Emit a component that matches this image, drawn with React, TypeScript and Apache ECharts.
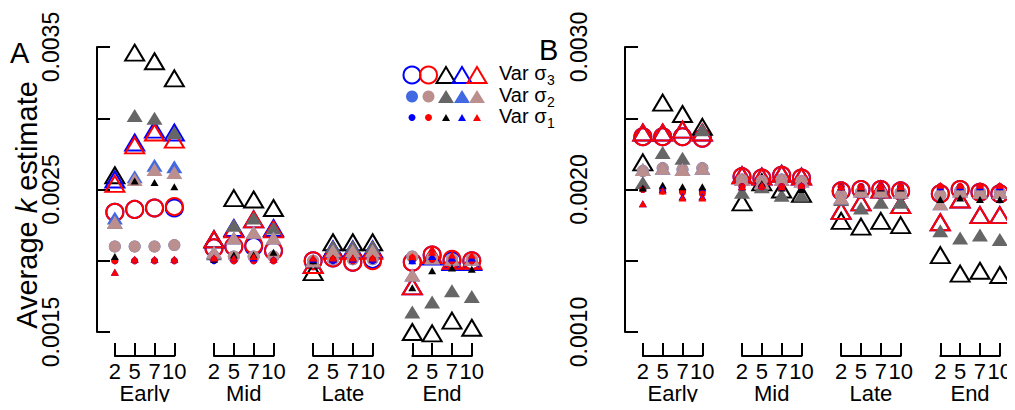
import React, { useEffect, useRef } from 'react';
import * as echarts from 'echarts';

const FONT = '"Liberation Sans", Arial, Helvetica, sans-serif';

// ---------- categories / labels ----------
const stages = ['Early', 'Mid', 'Late', 'End'];
const sampleSizes = ['2', '5', '7', '10'];
const yLabelsA = ['0.0015', '0.0025', '0.0035'];
const yLabelsB = ['0.0010', '0.0020', '0.0030'];
const legendLabels = ['3', '2', '1'];

// ---------- Panel A values (Early 2,5,7,10 | Mid | Late | End) ----------
const A_s3_circBlue = [0.00234, 0.00236, 0.00237, 0.00237, 0.00209, 0.0021, 0.0021, 0.00207, 0.002, 0.00202, 0.00199, 0.00201, 0.00199, 0.00204, 0.002, 0.002];
const A_s3_circRed = [0.00234, 0.00236, 0.00237, 0.00238, 0.00209, 0.0021, 0.00211, 0.00207, 0.002, 0.00202, 0.00199, 0.002, 0.00199, 0.00204, 0.00201, 0.002];
const A_s3_triBlack = [0.0026, 0.00346, 0.0034, 0.00328, 0.00215, 0.00244, 0.00243, 0.00237, 0.00192, 0.00213, 0.00213, 0.00213, 0.0015, 0.00149, 0.00158, 0.00153];
const A_s3_triBlue = [0.00257, 0.00283, 0.00292, 0.0029, 0.00215, 0.00223, 0.00229, 0.00223, 0.00197, 0.00208, 0.00208, 0.00208, 0.00182, 0.00203, 0.00199, 0.00199];
const A_s3_triRed = [0.00254, 0.00281, 0.0029, 0.00285, 0.00215, 0.00222, 0.00229, 0.00222, 0.00197, 0.00207, 0.00207, 0.00207, 0.00182, 0.00204, 0.002, 0.002];

const A_s2_circBlue = [0.0021, 0.0021, 0.0021, 0.00211, 0.00203, 0.00203, 0.00203, 0.00203, 0.002, 0.00201, 0.00201, 0.00201, 0.00203, 0.00202, 0.00201, 0.00201];
const A_s2_circRed = [0.0021, 0.0021, 0.0021, 0.00211, 0.00203, 0.00203, 0.00203, 0.00203, 0.002, 0.00201, 0.00201, 0.00201, 0.00203, 0.00202, 0.00201, 0.00201];
const A_s2_triBlack = [0.00227, 0.00302, 0.003, 0.0029, 0.00205, 0.00225, 0.0023, 0.00223, 0.002, 0.0021, 0.0021, 0.0021, 0.00164, 0.00171, 0.00179, 0.00175];
const A_s2_triBlue = [0.0023, 0.00259, 0.00267, 0.00266, 0.00206, 0.00216, 0.0022, 0.00216, 0.002, 0.00207, 0.00207, 0.00207, 0.0019, 0.00202, 0.00201, 0.00201];
const A_s2_triRed = [0.00227, 0.00257, 0.00264, 0.00262, 0.00206, 0.00216, 0.0022, 0.00216, 0.002, 0.00207, 0.00207, 0.00207, 0.0019, 0.00202, 0.00201, 0.00201];

const A_s1_circBlue = [0.002, 0.002, 0.002, 0.002, 0.002, 0.002, 0.002, 0.002, 0.002, 0.002, 0.002, 0.002, 0.002, 0.00201, 0.002, 0.002];
const A_s1_circRed = [0.002, 0.002, 0.002, 0.002, 0.00201, 0.002, 0.002, 0.002, 0.002, 0.00201, 0.002, 0.00201, 0.00202, 0.00201, 0.002, 0.002];
const A_s1_triBlack = [0.00203, 0.00256, 0.00255, 0.00252, 0.00201, 0.00204, 0.00204, 0.00206, 0.002, 0.00202, 0.00202, 0.00202, 0.00181, 0.00193, 0.00195, 0.00194];
const A_s1_triBlue = [0.00192, 0.00201, 0.00201, 0.00201, 0.00202, 0.00202, 0.00202, 0.00201, 0.00201, 0.00201, 0.00201, 0.00201, 0.002, 0.00203, 0.00202, 0.00202];
const A_s1_triRed = [0.00192, 0.00201, 0.00201, 0.00201, 0.00202, 0.00202, 0.00203, 0.00201, 0.00202, 0.00202, 0.00202, 0.00202, 0.00203, 0.00206, 0.00204, 0.00204];

// ---------- Panel B values ----------
const B_s3_circBlue = [0.00237, 0.00237, 0.00237, 0.00236, 0.00209, 0.00208, 0.0021, 0.00208, 0.00199, 0.002, 0.002, 0.00199, 0.00197, 0.002, 0.00198, 0.00197];
const B_s3_circRed = [0.00237, 0.00237, 0.00237, 0.00236, 0.00209, 0.00208, 0.0021, 0.00208, 0.00199, 0.002, 0.002, 0.00199, 0.00197, 0.002, 0.00198, 0.00197];
const B_s3_triBlack = [0.00219, 0.00261, 0.00253, 0.00244, 0.00191, 0.00205, 0.002, 0.00197, 0.00178, 0.00174, 0.00178, 0.00175, 0.00154, 0.00141, 0.00143, 0.0014];
const B_s3_triBlue = [0.0024, 0.0024, 0.00242, 0.0024, 0.0021, 0.00209, 0.00211, 0.00209, 0.00185, 0.00191, 0.002, 0.00189, 0.00177, 0.00193, 0.00182, 0.00182];
const B_s3_triRed = [0.0024, 0.0024, 0.00242, 0.0024, 0.0021, 0.00209, 0.00211, 0.00209, 0.00185, 0.00191, 0.002, 0.00189, 0.00177, 0.00193, 0.00182, 0.00182];

const B_s2_circBlue = [0.00213, 0.00215, 0.00214, 0.00215, 0.00207, 0.00206, 0.00207, 0.00206, 0.00196, 0.00198, 0.00198, 0.00198, 0.00196, 0.00199, 0.00198, 0.00198];
const B_s2_circRed = [0.00213, 0.00215, 0.00214, 0.00215, 0.00207, 0.00206, 0.00207, 0.00206, 0.00196, 0.00198, 0.00198, 0.00198, 0.00196, 0.00199, 0.00198, 0.00198];
const B_s2_triBlack = [0.00205, 0.00226, 0.00222, 0.00242, 0.00198, 0.00202, 0.00196, 0.00196, 0.00193, 0.00187, 0.00191, 0.00191, 0.00171, 0.00166, 0.00168, 0.00165];
const B_s2_triBlue = [0.00214, 0.00215, 0.00214, 0.00215, 0.00207, 0.00205, 0.00207, 0.00206, 0.00194, 0.00199, 0.00199, 0.00198, 0.0019, 0.00199, 0.00198, 0.00198];
const B_s2_triRed = [0.00214, 0.00215, 0.00214, 0.00215, 0.00207, 0.00205, 0.00207, 0.00206, 0.00194, 0.00199, 0.00199, 0.00198, 0.0019, 0.00199, 0.00198, 0.00198];

const B_s1_circBlue = [0.002, 0.002, 0.00199, 0.00199, 0.00202, 0.00202, 0.00202, 0.00202, 0.00202, 0.00202, 0.00202, 0.00202, 0.00202, 0.00202, 0.00202, 0.00202];
const B_s1_circRed = [0.002, 0.00199, 0.00198, 0.00197, 0.00202, 0.00202, 0.00202, 0.00202, 0.00202, 0.00202, 0.00202, 0.00202, 0.00202, 0.00202, 0.00202, 0.00202];
const B_s1_triBlack = [0.00201, 0.00203, 0.00202, 0.00202, 0.00202, 0.00204, 0.00201, 0.002, 0.00202, 0.00201, 0.00201, 0.00201, 0.00193, 0.00194, 0.00193, 0.00193];
const B_s1_triBlue = [0.0019, 0.002, 0.00195, 0.00195, 0.00202, 0.00203, 0.00202, 0.00203, 0.00202, 0.00202, 0.00202, 0.00202, 0.00202, 0.00202, 0.00202, 0.00202];
const B_s1_triRed = [0.0019, 0.00199, 0.00194, 0.00194, 0.00202, 0.00203, 0.00202, 0.00203, 0.00202, 0.00202, 0.00202, 0.00202, 0.00203, 0.00203, 0.00203, 0.00203];

// ---------- styling ----------
const methods = [
  { key: 'circBlue', symbol: 'circle', c3: '#0000FF', c2: '#4169E1', c1: '#0000FF' },
  { key: 'circRed', symbol: 'circle', c3: '#FF0000', c2: '#BC8F8F', c1: '#FF0000' },
  { key: 'triBlack', symbol: 'triangle', c3: '#000000', c2: '#666666', c1: '#000000' },
  { key: 'triBlue', symbol: 'triangle', c3: '#0000FF', c2: '#4169E1', c1: '#0000FF' },
  { key: 'triRed', symbol: 'triangle', c3: '#FF0000', c2: '#BC8F8F', c1: '#FF0000' },
];

const panelData: Record<string, Record<number, Record<string, number[]>>> = {
  A: {
    3: { circBlue: A_s3_circBlue, circRed: A_s3_circRed, triBlack: A_s3_triBlack, triBlue: A_s3_triBlue, triRed: A_s3_triRed },
    2: { circBlue: A_s2_circBlue, circRed: A_s2_circRed, triBlack: A_s2_triBlack, triBlue: A_s2_triBlue, triRed: A_s2_triRed },
    1: { circBlue: A_s1_circBlue, circRed: A_s1_circRed, triBlack: A_s1_triBlack, triBlue: A_s1_triBlue, triRed: A_s1_triRed },
  },
  B: {
    3: { circBlue: B_s3_circBlue, circRed: B_s3_circRed, triBlack: B_s3_triBlack, triBlue: B_s3_triBlue, triRed: B_s3_triRed },
    2: { circBlue: B_s2_circBlue, circRed: B_s2_circRed, triBlack: B_s2_triBlack, triBlue: B_s2_triBlue, triRed: B_s2_triRed },
    1: { circBlue: B_s1_circBlue, circRed: B_s1_circRed, triBlack: B_s1_triBlack, triBlue: B_s1_triBlue, triRed: B_s1_triRed },
  },
};

const UNIT = 19.83; // px per x unit
const X_MIN = 0.1;
const panels = [
  { id: 'A', left: 97, xMax: 19.6, yMin: 0.0015, yMax: 0.0035, labels: yLabelsA },
  { id: 'B', left: 625, xMax: 19.5, yMin: 0.001, yMax: 0.003, labels: yLabelsB },
];
const GRID_TOP = 47;
const GRID_H = 285;
const AXIS_Y = 356;

function symSize(level: number, symbol: string): number | number[] {
  if (level === 3) return symbol === 'circle' ? 17 : [19, 16];
  if (level === 2) return symbol === 'circle' ? 12 : [16, 13];
  return symbol === 'circle' ? 7 : [8, 7];
}

const xPos = (i: number) => Math.floor(i / 4) * 5 + (i % 4) + 1;

function textWidth(text: string, font: string): number {
  const c = document.createElement('canvas').getContext('2d');
  if (!c) return text.length * 9;
  c.font = font;
  return c.measureText(text).width;
}

export default function App() {
  const ref = useRef<HTMLDivElement>(null);
  useEffect(() => {
    if (!ref.current) return;
    const chart = echarts.init(ref.current, undefined, { renderer: 'svg' });

    const grids: any[] = [];
    const xAxes: any[] = [];
    const yAxes: any[] = [];
    const series: any[] = [];

    panels.forEach((p, pi) => {
      grids.push({ left: p.left, top: GRID_TOP, width: (p.xMax - X_MIN) * UNIT, height: GRID_H, containLabel: false });
      xAxes.push({ type: 'value', gridIndex: pi, min: X_MIN, max: p.xMax, show: false });
      yAxes.push({
        type: 'value', gridIndex: pi, min: p.yMin, max: p.yMax, interval: 0.0005,
        axisLine: { show: true, onZero: false, lineStyle: { color: '#000', width: 2 } },
        axisTick: { show: true, inside: true, length: 13, lineStyle: { color: '#000', width: 2 } },
        splitLine: { show: false },
        axisLabel: {
          rotate: 90, margin: 35, fontSize: 23, color: '#000', fontFamily: FONT,
          formatter: (v: number) => (p.labels.includes(v.toFixed(4)) ? v.toFixed(4) : ''),
        },
      });
    });

    // group axes (category) under each stage
    panels.forEach((p) => {
      stages.forEach((st, g) => {
        const gi = grids.length;
        const start = g * 5 + 1;
        grids.push({ left: p.left + (start - X_MIN) * UNIT, top: AXIS_Y - 40, width: 3 * UNIT, height: 40 });
        xAxes.push({
          type: 'category', gridIndex: gi, data: sampleSizes, boundaryGap: false, position: 'bottom',
          axisLine: { show: true, onZero: false, lineStyle: { color: '#000', width: 2 } },
          axisTick: { show: true, inside: true, length: 13, interval: 0, lineStyle: { color: '#000', width: 2 } },
          axisLabel: { interval: 0, margin: 4, fontSize: 22, color: '#000', fontFamily: FONT },
          name: st, nameLocation: 'middle', nameGap: 19,
          nameTextStyle: { fontSize: 22, color: '#000', fontFamily: FONT },
        });
        yAxes.push({ type: 'value', gridIndex: gi, show: false });
      });
    });

    panels.forEach((p, pi) => {
      // reference line at 0.002
      series.push({
        type: 'scatter', xAxisIndex: pi, yAxisIndex: pi, data: [], z: 1, silent: true,
        markLine: {
          silent: true, symbol: ['none', 'none'], label: { show: false },
          lineStyle: { color: '#b4b4b4', type: 'solid', width: 1.5, opacity: 1 },
          data: [{ yAxis: 0.002 }],
        },
      });
      [3, 2, 1].forEach((lvl) => {
        methods.forEach((m) => {
          const vals = panelData[p.id][lvl][m.key];
          const color = lvl === 3 ? m.c3 : lvl === 2 ? m.c2 : m.c1;
          series.push({
            type: 'scatter', xAxisIndex: pi, yAxisIndex: pi, clip: false, silent: true, z: 2 + (3 - lvl),
            symbol: m.symbol, symbolSize: symSize(lvl, m.symbol),
            itemStyle: lvl === 3
              ? { color: 'rgba(255,255,255,0)', borderColor: color, borderWidth: 2, opacity: 1 }
              : { color, opacity: 1 },
            data: vals.map((v, i) => [xPos(i), v]),
          });
        });
      });
    });

    // legend (panel A)
    const legendRows = [
      { y: 75, lvl: 3 },
      { y: 96.5, lvl: 2 },
      { y: 117.5, lvl: 1 },
    ];
    const legendX = [412, 428.5, 446, 462, 477];
    const graphic: any[] = [];
    const mainW = textWidth('Var σ', `20px ${FONT}`);
    legendRows.forEach((row, ri) => {
      methods.forEach((m, mi) => {
        const color = row.lvl === 3 ? m.c3 : row.lvl === 2 ? m.c2 : m.c1;
        const sz: any = symSize(row.lvl, m.symbol);
        const style = row.lvl === 3 ? { fill: 'none', stroke: color, lineWidth: 2 } : { fill: color };
        if (m.symbol === 'circle') {
          graphic.push({ type: 'circle', shape: { cx: legendX[mi], cy: row.y, r: sz / 2 }, style });
        } else {
          const w = sz[0], h = sz[1];
          const cx = legendX[mi];
          graphic.push({
            type: 'polygon',
            shape: { points: [[cx, row.y - h / 2], [cx + w / 2, row.y + h / 2], [cx - w / 2, row.y + h / 2]] },
            style,
          });
        }
      });
      graphic.push({
        type: 'text', x: 499, y: row.y - 2,
        style: { text: 'Var σ', fontSize: 20, fontFamily: FONT, fill: '#000', align: 'left', verticalAlign: 'middle' },
      });
      graphic.push({
        type: 'text', x: 499 + mainW + 0.5, y: row.y + 5,
        style: { text: legendLabels[ri], fontSize: 14, fontFamily: FONT, fill: '#000', align: 'left', verticalAlign: 'middle' },
      });
    });
    graphic.push({ type: 'text', left: 10, top: 38, style: { text: 'A', fontSize: 29, fontFamily: FONT, fill: '#000' } });
    graphic.push({ type: 'text', left: 539, top: 35, style: { text: 'B', fontSize: 29, fontFamily: FONT, fill: '#000' } });
    graphic.push({
      type: 'text', x: 27, y: 205, rotation: Math.PI / 2,
      style: {
        text: 'Average {i|k} estimate', fontSize: 29, fontFamily: FONT, fill: '#000',
        align: 'center', verticalAlign: 'middle',
        rich: { i: { fontStyle: 'italic', fontSize: 29, fontFamily: FONT, fill: '#000' } },
      },
    });

    chart.setOption({
      animation: false,
      backgroundColor: '#fff',
      grid: grids,
      xAxis: xAxes,
      yAxis: yAxes,
      series,
      graphic,
    });
    return () => chart.dispose();
  }, []);
  return <div ref={ref} style={{ width: 1015, height: 410, margin: -8 }} />;
}
